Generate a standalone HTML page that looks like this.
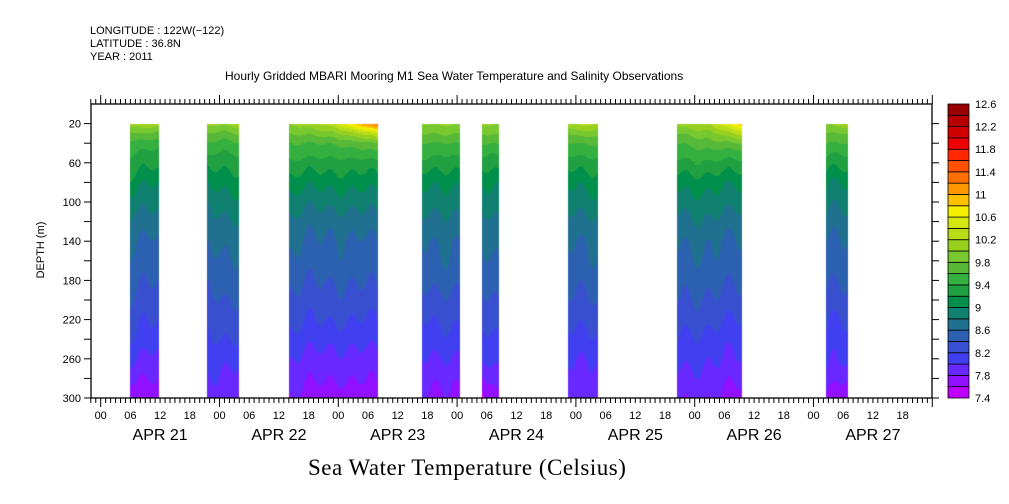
<!DOCTYPE html>
<html><head><meta charset="utf-8">
<style>
body{margin:0;background:#fff;width:1009px;height:504px;overflow:hidden;position:relative;font-family:"Liberation Sans",sans-serif}
.t{position:absolute;font-size:11px;color:#000;white-space:nowrap;line-height:12px}
svg,canvas{position:absolute;left:0;top:0}
</style></head><body>
<canvas id="field" width="1009" height="504"></canvas>
<svg id="ax" width="1009" height="504"></svg>
<div class="t" style="left:90px;top:25px">LONGITUDE : 122W(−122)</div>
<div class="t" style="left:90px;top:38px">LATITUDE : 36.8N</div>
<div class="t" style="left:90px;top:51px">YEAR : 2011</div>
<div class="t" style="left:225px;top:70px;font-size:12px">Hourly Gridded MBARI Mooring M1 Sea Water Temperature and Salinity Observations</div>
<div class="t" style="left:308px;top:455px;font-family:'Liberation Serif',serif;font-size:23px;line-height:26px;letter-spacing:0.5px">Sea Water Temperature (Celsius)</div>
<script>
// data
const depths=[20,30,40,50,60,80,100,120,140,160,180,200,220,240,260,280,300];
const segStart=[6,21.5,38,65,77,94.5,116.5,146.5];
const segEnd=[11.8,28,56,72.5,80.5,100.5,129.5,151];
const profA=[[10.0,9.7,9.5,9.4,9.3,9.1,8.85,8.7,8.6,8.5,8.45,8.35,8.25,8.15,8.0,7.8,7.55],
 [10.1,9.8,9.6,9.45,9.3,9.05,8.85,8.75,8.65,8.55,8.45,8.35,8.3,8.2,8.1,8.05,7.95],
 [10.0,9.8,9.6,9.5,9.35,9.1,8.9,8.75,8.65,8.55,8.45,8.35,8.25,8.15,8.0,7.9,7.8],
 [10.0,9.8,9.6,9.5,9.35,9.05,8.9,8.75,8.6,8.55,8.45,8.35,8.2,8.1,8.0,7.9,7.8],
 [10.0,9.8,9.6,9.45,9.3,9.0,8.85,8.7,8.6,8.55,8.45,8.35,8.25,8.1,8.0,7.75,7.5],
 [10.1,9.8,9.6,9.45,9.3,9.05,8.9,8.75,8.65,8.55,8.5,8.4,8.3,8.15,8.05,7.95,7.85],
 [10.1,9.8,9.6,9.5,9.35,9.1,8.9,8.75,8.65,8.55,8.5,8.4,8.3,8.2,8.1,7.95,7.85],
 [10.0,9.8,9.6,9.45,9.3,9.05,8.9,8.75,8.6,8.55,8.45,8.35,8.25,8.15,8.05,7.95,7.7]];
const profM=[[10.2,9.8,9.5,9.35,9.25,9.0,8.85,8.7,8.55,8.5,8.4,8.3,8.2,8.1,7.95,7.8,7.65],
 [10.0,9.7,9.5,9.35,9.25,9.05,8.9,8.75,8.65,8.55,8.5,8.4,8.3,8.2,8.05,7.95,7.85],
 [10.3,9.9,9.6,9.45,9.3,9.05,8.85,8.65,8.55,8.5,8.4,8.3,8.2,8.05,7.9,7.8,7.6],
 [10.0,9.8,9.55,9.4,9.25,9.0,8.85,8.7,8.6,8.55,8.45,8.3,8.2,8.1,7.95,7.8,7.7],
 [10.0,9.8,9.55,9.35,9.2,9.0,8.85,8.7,8.6,8.5,8.4,8.3,8.2,8.1,8.0,7.8,7.55],
 [10.3,9.9,9.6,9.45,9.3,9.05,8.9,8.75,8.6,8.55,8.45,8.35,8.25,8.15,8.0,7.95,7.9],
 [10.2,9.9,9.7,9.5,9.35,9.05,8.9,8.75,8.6,8.55,8.45,8.35,8.25,8.1,8.0,7.9,7.8],
 [10.1,9.8,9.6,9.4,9.3,9.0,8.85,8.7,8.6,8.55,8.45,8.35,8.2,8.1,8.05,7.9,7.65]];
const profB=[[10.1,9.7,9.5,9.35,9.3,9.05,8.9,8.75,8.6,8.55,8.45,8.35,8.25,8.15,7.95,7.85,7.7],
 [10.1,9.8,9.55,9.4,9.3,9.05,8.9,8.75,8.6,8.55,8.45,8.35,8.25,8.15,8.0,7.85,7.7],
 [11.4,10.4,9.8,9.55,9.35,9.1,8.9,8.75,8.6,8.55,8.45,8.35,8.2,8.1,7.95,7.85,7.7],
 [10.0,9.8,9.6,9.45,9.3,9.05,8.9,8.75,8.6,8.55,8.45,8.35,8.25,8.1,8.0,7.85,7.75],
 [10.0,9.8,9.6,9.45,9.3,9.0,8.9,8.75,8.65,8.6,8.5,8.4,8.3,8.15,8.05,7.95,7.75],
 [10.1,9.8,9.6,9.45,9.3,9.05,8.9,8.7,8.6,8.55,8.45,8.35,8.2,8.1,7.95,7.85,7.7],
 [10.9,10.3,9.8,9.5,9.35,9.05,8.9,8.7,8.6,8.55,8.45,8.35,8.2,8.1,8.0,7.85,7.7],
 [10.1,9.8,9.6,9.45,9.3,9.05,8.9,8.75,8.6,8.55,8.45,8.35,8.25,8.15,8.05,7.8,7.6]];
const xTickLabels=["00","06","12","18"];
const dayLabels=["APR 21","APR 22","APR 23","APR 24","APR 25","APR 26","APR 27"];
const yTicks=[20,60,100,140,180,220,260,300];
const cbLabels=["7.4","7.8","8.2","8.6","9","9.4","9.8","10.2","10.6","11","11.4","11.8","12.2","12.6"];
const colors=["#c000ff","#9010ff","#6828ff","#4040f0","#3850d0","#2c60b0","#207090","#108070","#00904c","#20a040","#34b040","#58b838","#78c830","#98d020","#b8dc18","#d4e810","#f4f000","#ffc000","#ff9800","#ff7000","#ff5000","#ff2800","#f00000","#d00000","#b80000","#980000"];

const L=91,R=932,T=104,B=398;
const x0=100.7,pxH=4.95;
const X=h=>x0+h*pxH;
const Y=d=>T+(d/300)*(B-T);
function colorFor(v){let i=Math.floor((v-7.4)/0.2);i=Math.max(0,Math.min(colors.length-1,i));return colors[i];}
function prof(p,d){for(let k=0;k<depths.length-1;k++){if(d<=depths[k+1]){const f=(d-depths[k])/(depths[k+1]-depths[k]);return p[k]+(p[k+1]-p[k])*f;}}return p[p.length-1];}
const ctx=document.getElementById('field').getContext('2d');
for(let s=0;s<segStart.length;s++){
  const xa=Math.round(X(segStart[s])),xb=Math.round(X(segEnd[s]));
  for(let px=xa;px<xb;px++){
    const f=(px-xa)/Math.max(1,xb-xa);
    const wig=0.05*Math.sin(px*0.3)+0.04*Math.sin(px*0.11+s);
    for(let py=Math.round(Y(20));py<B;py++){
      const d=(py-T)/(B-T)*300;
      let v;
      if(f<0.5){const g=f/0.5;v=prof(profA[s],d)*(1-g)+prof(profM[s],d)*g;}
      else{const g=(f-0.5)/0.5;v=prof(profM[s],d)*(1-g)+prof(profB[s],d)*g;}
      v+=wig*(d<60?0.5:1);
      ctx.fillStyle=colorFor(v);ctx.fillRect(px,py,1,1);
    }
  }
}
const svg=document.getElementById('ax');const NS="http://www.w3.org/2000/svg";
function el(t,a,parent){const e=document.createElementNS(NS,t);for(const k in a)e.setAttribute(k,a[k]);(parent||svg).appendChild(e);return e;}
const frame=el('rect',{x:L,y:T,width:R-L,height:B-T,fill:'none',stroke:'#000','stroke-width':1.3});


for(let h=-2;h<=168;h++){
  const x=X(h);if(x<L-0.5||x>R+0.5)continue;
  const len=(h%24===0)?9:5;
  el('line',{x1:x,y1:B,x2:x,y2:B+len,stroke:'#000','stroke-width':1});
  el('line',{x1:x,y1:T,x2:x,y2:T-len,stroke:'#000','stroke-width':1});
  if(h%6===0&&h<168){
    const tx=el('text',{x:x,y:B+21,'font-size':11,'text-anchor':'middle','font-family':'Liberation Sans, sans-serif'});
    tx.textContent=xTickLabels[(h/6)%4];
    
    
  }
}
dayLabels.forEach((lab,i)=>{
  const tx=el('text',{x:X(i*24+12),y:B+42,'font-size':16,'text-anchor':'middle','font-family':'Liberation Sans, sans-serif'});
  tx.textContent=lab;
  
  
});
for(let d=20;d<=300;d+=20){
  const y=Y(d);
  el('line',{x1:L,y1:y,x2:L-7,y2:y,stroke:'#000','stroke-width':1});
  el('line',{x1:R,y1:y,x2:R+7,y2:y,stroke:'#000','stroke-width':1});
}
yTicks.forEach(d=>{
  const tx=el('text',{x:L-10,y:Y(d)+4,'font-size':11,'text-anchor':'end','font-family':'Liberation Sans, sans-serif'});
  tx.textContent=d;
  
  
});
const yt=el('text',{x:0,y:0,'font-size':11,'text-anchor':'middle','font-family':'Liberation Sans, sans-serif',transform:'translate(44,250) rotate(-90)'});
yt.textContent='DEPTH (m)';


const cbx=948,cbw=21,bh=(B-T)/colors.length;
colors.forEach((c,i)=>{
  const r=el('rect',{x:cbx,y:B-(i+1)*bh,width:cbw,height:bh,fill:c,stroke:'#000','stroke-width':0.8});
  
  
});
cbLabels.forEach((lab,i)=>{
  const tx=el('text',{x:cbx+cbw+6,y:B-i*2*bh+4,'font-size':11,'font-family':'Liberation Sans, sans-serif'});
  tx.textContent=lab;
  
  
});
</script>
</body></html>
